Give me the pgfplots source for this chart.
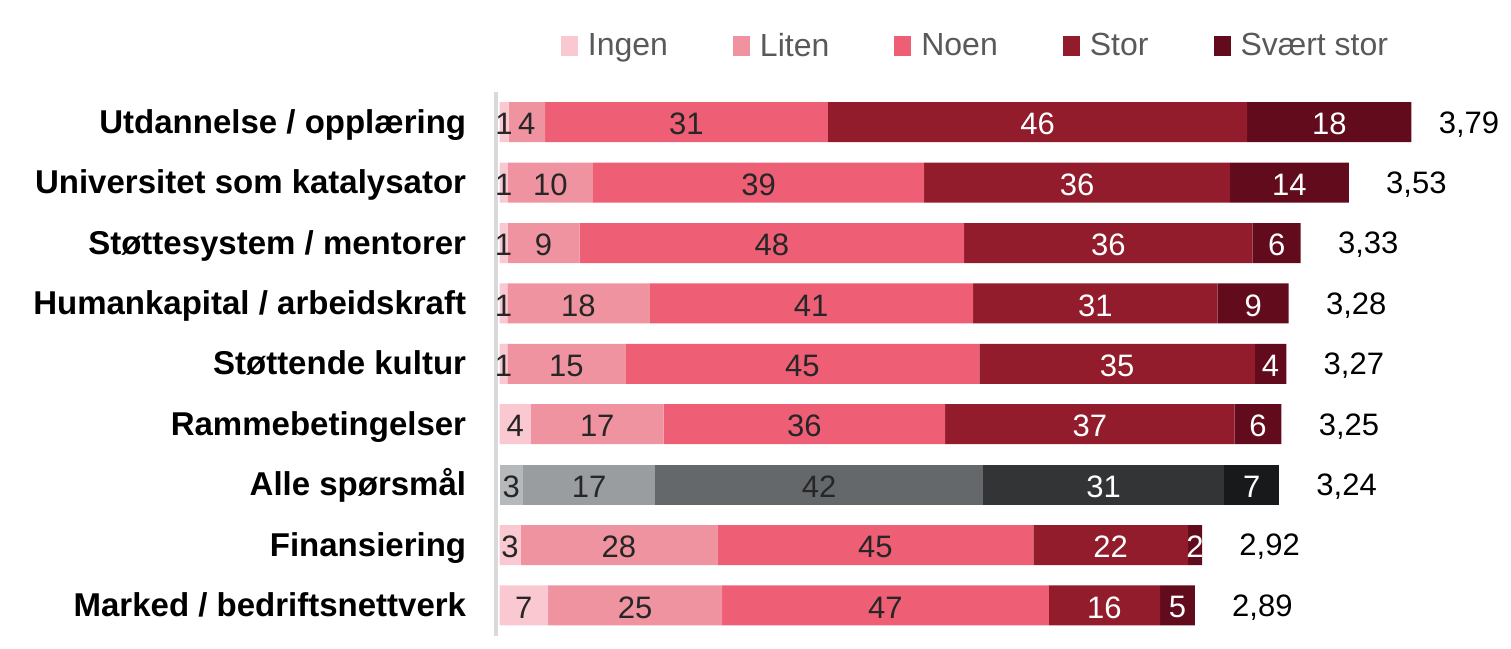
\documentclass[border=0pt]{standalone}
\usepackage{fontspec}
\setmainfont{Liberation Sans}
\usepackage{pgfplots}
\pgfplotsset{compat=1.18}
\usepackage{pgfplotstable}
\definecolor{cIngen}{HTML}{F9C8D1}
\definecolor{cLiten}{HTML}{F093A0}
\definecolor{cNoen}{HTML}{EE5F76}
\definecolor{cStor}{HTML}{921C2C}
\definecolor{cSvart}{HTML}{620B1C}
\definecolor{gA}{HTML}{B6B9BC}
\definecolor{gB}{HTML}{9A9DA0}
\definecolor{gC}{HTML}{65686B}
\definecolor{gD}{HTML}{333436}
\definecolor{gE}{HTML}{18191B}
\definecolor{txt}{HTML}{262626}

% y: row (0 = top); mean: average score; g: 1 = grey row (all questions)
% a..e: percent Ingen, Liten, Noen, Stor, Svaert stor
\pgfplotstableread{
y mean g a b c d e
0 3.79 0 1 4 31 46 18
1 3.53 0 1 10 39 36 14
2 3.33 0 1 9 48 36 6
3 3.28 0 1 18 41 31 9
4 3.27 0 1 15 45 35 4
5 3.25 0 4 17 36 37 6
6 3.24 1 3 17 42 31 7
7 2.92 0 3 28 45 22 2
8 2.89 0 7 25 47 16 5
}\datatable

% bar segment: #1 column, #2 fill, #3 = 0 pink rows / 1 grey row
\newcommand\segplot[3]{%
\addplot[fill=#2, draw=none]
  table[x expr={\thisrow{#1}*\thisrow{mean}/100*(\thisrow{g}==#3)}, y=y] \datatable;}
% label: #1 centre (sum of percents before + half), #2 meta column, #3 colour, #4 row selection
% (a non-stacked bar's node sits at the middle of its invisible bar, hence the factor 2)
\newcommand\labplot[4]{%
\addplot[stack plots=false, draw=none, fill=none, forget plot, #4,
  point meta=explicit,
  nodes near coords={\pgfmathprintnumber[assume math mode=true]{\pgfplotspointmeta}},
  every node near coord/.append style={text=#3, anchor=center}]
  table[x expr={2*(#1)*\thisrow{mean}/100}, y=y, meta=#2] \datatable;}

\begin{document}
\begin{tikzpicture}
\path[use as bounding box] (-248.25bp,-6.7bp) rectangle (507.25bp,317.8bp);
\begin{axis}[at={(0,0)}, anchor=south west,
  x=120.3bp, y=30.2bp,
  xmin=-0.0125, xmax=4.15, ymin=-0.5, ymax=8.5, y dir=reverse,
  xbar stacked, bar width=20bp,
  axis x line=none, axis y line*=left,
  axis line style={draw=black!15, line width=2bp},
  ytick={0,...,8},
  yticklabels={Utdannelse / opplæring, Universitet som katalysator, Støttesystem / mentorer, Humankapital / arbeidskraft, Støttende kultur, Rammebetingelser, Alle spørsmål, Finansiering, Marked / bedriftsnettverk},
  major tick length=0pt,
  yticklabel style={font=\fontsize{16.5bp}{19bp}\selectfont\bfseries, anchor=base east, inner sep=0pt, xshift=-15bp, yshift=-5.5bp, text=black},
  every node near coord/.append style={font=\fontsize{15.5bp}{18bp}\selectfont, inner sep=0pt, yshift=-1bp},
  legend columns=-1,
  legend style={at={(0.4773,1.0846)}, anchor=center, draw=none, fill=none,
    font=\fontsize{16bp}{19bp}\selectfont, text=black!65, nodes={inner sep=0pt},
    /tikz/every odd column/.append style={column sep=5bp},
    /tikz/every even column/.append style={column sep=32.5bp}},
  legend image code/.code={\fill[#1] (0bp,-5bp) rectangle (8.5bp,5bp);},
  clip=false,
]
\segplot{a}{cIngen}{0}
\segplot{b}{cLiten}{0}
\segplot{c}{cNoen}{0}
\segplot{d}{cStor}{0}
\segplot{e}{cSvart}{0}
\segplot{a}{gA}{1}
\segplot{b}{gB}{1}
\segplot{c}{gC}{1}
\segplot{d}{gD}{1}
\segplot{e}{gE}{1}
\legend{Ingen, Liten, Noen, Stor, Svært stor}
% segment labels, pink rows (skip row 6 = Alle spørsmål)
\labplot{\thisrow{a}/2}{a}{txt}{skip coords between index={6}{7}}
\labplot{\thisrow{a}+\thisrow{b}/2}{b}{txt}{skip coords between index={6}{7}}
\labplot{\thisrow{a}+\thisrow{b}+\thisrow{c}/2}{c}{txt}{skip coords between index={6}{7}}
\labplot{\thisrow{a}+\thisrow{b}+\thisrow{c}+\thisrow{d}/2}{d}{white}{skip coords between index={6}{7}}
\labplot{\thisrow{a}+\thisrow{b}+\thisrow{c}+\thisrow{d}+\thisrow{e}/2}{e}{white}{skip coords between index={6}{7}}
% segment labels, grey row
\labplot{\thisrow{a}/2}{a}{txt}{skip coords between index={0}{6}, skip coords between index={7}{9}}
\labplot{\thisrow{a}+\thisrow{b}/2}{b}{txt}{skip coords between index={0}{6}, skip coords between index={7}{9}}
\labplot{\thisrow{a}+\thisrow{b}+\thisrow{c}/2}{c}{txt}{skip coords between index={0}{6}, skip coords between index={7}{9}}
\labplot{\thisrow{a}+\thisrow{b}+\thisrow{c}+\thisrow{d}/2}{d}{white}{skip coords between index={0}{6}, skip coords between index={7}{9}}
\labplot{\thisrow{a}+\thisrow{b}+\thisrow{c}+\thisrow{d}+\thisrow{e}/2}{e}{white}{skip coords between index={0}{6}, skip coords between index={7}{9}}
% mean scores
\addplot[stack plots=false, draw=none, fill=none, forget plot,
  skip coords between index={0}{1},
  point meta=explicit,
  nodes near coords={\pgfmathprintnumber[fixed,fixed zerofill,precision=2,use comma,assume math mode=true]{\pgfplotspointmeta}},
  every node near coord/.append style={anchor=west, text=black, xshift=18.5bp},
] table[x expr={2*\thisrow{mean}}, y=y, meta=mean] \datatable;
\addplot[stack plots=false, draw=none, fill=none, forget plot,
  skip coords between index={1}{9},
  point meta=explicit,
  nodes near coords={\pgfmathprintnumber[fixed,fixed zerofill,precision=2,use comma,assume math mode=true]{\pgfplotspointmeta}},
  every node near coord/.append style={anchor=west, text=black, xshift=13.5bp},
] table[x expr={2*\thisrow{mean}}, y=y, meta=mean] \datatable;
\end{axis}
\end{tikzpicture}
\end{document}
